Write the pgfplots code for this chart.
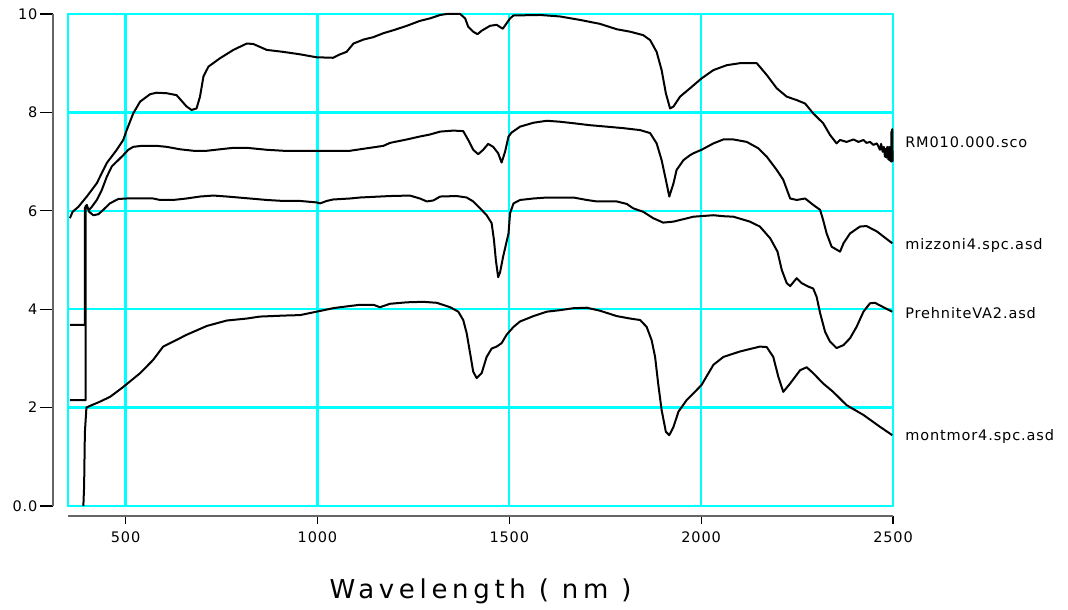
\documentclass[border=0pt]{standalone}
\usepackage{fontspec}
\setmainfont{DejaVu Sans}[LetterSpace=6]
\newfontfamily\labelfont{DejaVu Sans}[LetterSpace=18]
\usepackage{pgfplots}
\pgfplotsset{compat=1.18}
\definecolor{gridcyan}{RGB}{0,255,255}
\pgfplotsset{spec/.style={black, line width=1pt, mark=none, line join=round}}

\begin{document}
\begin{tikzpicture}
\useasboundingbox (-34pt,-51.5pt) rectangle (500pt,253pt);
\begin{axis}[
  at={(0pt,0pt)}, anchor=south west,
  scale only axis, width=412.5pt, height=246pt,
  xmin=350, xmax=2500, ymin=0, ymax=10,
  axis x line=bottom, axis y line=left,
  axis x line shift=5pt, axis y line shift=7.5pt,
  axis line style={-, black!60, line width=0.8pt},
  xtick={500,1000,1500,2000,2500},
  xticklabels={500,1000,1500,2000,2500},
  ytick={0,2,4,6,8,10},
  yticklabels={0.0,2,4,6,8,10},
  tick align=outside,
  xtick style={black, line width=0.6pt, /pgfplots/major tick length=4pt},
  ytick style={black, line width=0.6pt, /pgfplots/major tick length=6.5pt},
  ticklabel style={font=\fontsize{7.25}{8}\selectfont},
  grid=major,
  major grid style={gridcyan, line width=1.2pt},
  xlabel={Wavelength ( nm )},
  xlabel style={at={(axis description cs:0.5,0)}, anchor=center, yshift=-42.5pt,
    font=\labelfont\fontsize{13}{15}\selectfont},
  clip=false,
]
\draw[gridcyan, line width=1.2pt] (rel axis cs:0,0) rectangle (rel axis cs:1,1);

% RM010.000.sco
\addplot[spec] coordinates {
(355,5.85) (362,5.98) (377,6.08) (399,6.29) (425,6.56) (451,6.97) (477,7.24) (494,7.44)
(503,7.64) (520,7.98) (538,8.22) (564,8.37) (581,8.40) (607,8.39) (633,8.35) (659,8.12)
(672,8.05) (685,8.08) (694,8.32) (703,8.73) (716,8.93) (746,9.10) (781,9.27) (816,9.40)
(833,9.39) (868,9.27) (911,9.23) (955,9.18) (998,9.12) (1041,9.11) (1059,9.18) (1076,9.23)
(1094,9.40) (1120,9.48) (1146,9.53) (1172,9.61) (1198,9.67) (1233,9.76) (1267,9.86)
(1293,9.91) (1320,9.98) (1337,10.0) (1372,10.0) (1385,9.91) (1393,9.74) (1406,9.64)
(1417,9.59) (1428,9.66) (1450,9.76) (1467,9.78) (1483,9.70) (1493,9.81) (1502,9.91)
(1511,9.97) (1580,9.98) (1632,9.95) (1684,9.88) (1736,9.80) (1780,9.69) (1815,9.64)
(1849,9.57) (1867,9.47) (1884,9.23) (1897,8.86) (1908,8.39) (1919,8.08) (1928,8.12)
(1945,8.32) (1971,8.49) (2001,8.69) (2032,8.86) (2067,8.96) (2101,9.00) (2145,9.00)
(2171,8.76) (2197,8.49) (2223,8.32) (2249,8.25) (2271,8.18) (2292,7.98) (2318,7.78)
(2336,7.54) (2353,7.37) (2362,7.44) (2379,7.40) (2397,7.45) (2410,7.40) (2423,7.44)
(2431,7.38) (2440,7.40) (2449,7.34) (2458,7.37) (2466,7.24) (2469,7.36) (2473,7.20)
(2476,7.30) (2479,7.10) (2481,7.26) (2483,7.08) (2485,7.30) (2488,7.04) (2490,7.30)
(2492,7.02) (2494,7.30) (2495,7.00) (2496,7.61) (2497,7.00) (2498,7.66) (2499,7.00)
};

% mizzoni4.spc.asd
\addplot[spec] coordinates {
(355,2.15) (396,2.15) (396,6.10) (405,6.02) (412,6.08) (425,6.22) (438,6.42) (451,6.69)
(464,6.90) (477,7.00) (494,7.13) (507,7.24) (520,7.30) (542,7.32) (581,7.32) (607,7.30)
(642,7.25) (677,7.22) (712,7.22) (746,7.25) (781,7.28) (816,7.28) (842,7.26) (868,7.24)
(911,7.22) (955,7.22) (998,7.22) (1041,7.22) (1085,7.22) (1111,7.25) (1172,7.32)
(1189,7.38) (1233,7.45) (1267,7.51) (1293,7.55) (1320,7.61) (1354,7.63) (1380,7.62)
(1393,7.44) (1406,7.24) (1419,7.15) (1432,7.24) (1445,7.36) (1458,7.30) (1471,7.17)
(1480,6.98) (1489,7.20) (1498,7.51) (1506,7.59) (1528,7.71) (1563,7.79) (1598,7.83)
(1632,7.81) (1667,7.78) (1710,7.74) (1754,7.71) (1797,7.68) (1841,7.64) (1867,7.58)
(1884,7.37) (1897,7.03) (1908,6.63) (1917,6.29) (1928,6.56) (1936,6.83) (1954,7.03)
(1971,7.13) (1980,7.17) (2001,7.24) (2032,7.37) (2058,7.45) (2084,7.45) (2119,7.40)
(2149,7.27) (2171,7.10) (2197,6.83) (2214,6.63) (2232,6.25) (2249,6.22) (2271,6.25)
(2292,6.12) (2310,6.02) (2318,5.81) (2327,5.54) (2340,5.27) (2362,5.17) (2371,5.34)
(2388,5.54) (2414,5.68) (2431,5.69) (2458,5.58) (2498,5.34)
};

% PrehniteVA2.asd
\addplot[spec] coordinates {
(355,3.68) (394,3.68) (394,6.05) (399,6.12) (405,5.98) (416,5.91) (429,5.93) (442,6.02)
(459,6.15) (481,6.24) (503,6.25) (520,6.25) (572,6.25) (590,6.22) (624,6.22) (659,6.25)
(694,6.29) (729,6.31) (764,6.29) (824,6.25) (868,6.22) (911,6.20) (955,6.20) (998,6.17)
(1007,6.15) (1024,6.20) (1041,6.23) (1085,6.25) (1111,6.27) (1189,6.30) (1241,6.31)
(1267,6.25) (1285,6.19) (1302,6.21) (1320,6.29) (1363,6.30) (1389,6.27) (1406,6.19)
(1424,6.05) (1441,5.91) (1454,5.75) (1460,5.41) (1465,5.00) (1471,4.65) (1476,4.75)
(1484,5.07) (1498,5.54) (1502,5.95) (1511,6.15) (1528,6.22) (1563,6.25) (1598,6.27)
(1667,6.27) (1702,6.22) (1728,6.19) (1780,6.19) (1806,6.14) (1823,6.05) (1849,5.98)
(1875,5.85) (1901,5.76) (1928,5.78) (1954,5.83) (1980,5.88) (2032,5.91) (2058,5.89)
(2084,5.88) (2127,5.78) (2153,5.68) (2180,5.44) (2199,5.17) (2210,4.80) (2223,4.53)
(2232,4.47) (2249,4.63) (2262,4.53) (2279,4.46) (2292,4.42) (2301,4.25) (2310,3.92)
(2323,3.54) (2336,3.34) (2353,3.21) (2371,3.27) (2388,3.41) (2405,3.64) (2423,3.95)
(2440,4.12) (2453,4.13) (2475,4.04) (2498,3.95)
};

% montmor4.spc.asd
\addplot[spec] coordinates {
(390,0) (392,0.4) (394,1.5) (398,2.0) (403,2.02) (433,2.12) (460,2.22) (494,2.42)
(538,2.70) (572,2.97) (598,3.24) (624,3.34) (659,3.48) (712,3.66) (764,3.77) (816,3.81)
(850,3.85) (911,3.87) (955,3.88) (998,3.95) (1041,4.02) (1059,4.04) (1111,4.09)
(1146,4.09) (1163,4.04) (1189,4.11) (1233,4.14) (1276,4.15) (1311,4.13) (1346,4.04)
(1367,3.95) (1380,3.78) (1389,3.51) (1398,3.10) (1406,2.73) (1415,2.60) (1428,2.70)
(1441,3.03) (1454,3.20) (1467,3.24) (1480,3.31) (1493,3.48) (1511,3.64) (1528,3.75)
(1563,3.86) (1598,3.95) (1632,3.98) (1667,4.02) (1702,4.03) (1736,3.97) (1780,3.86)
(1815,3.81) (1841,3.78) (1858,3.64) (1871,3.37) (1880,3.03) (1888,2.49) (1897,1.95)
(1908,1.51) (1917,1.44) (1928,1.61) (1941,1.92) (1962,2.15) (1980,2.29) (2001,2.46)
(2032,2.87) (2058,3.03) (2101,3.14) (2153,3.24) (2171,3.23) (2188,3.03) (2201,2.63)
(2214,2.32) (2232,2.49) (2258,2.76) (2275,2.82) (2292,2.70) (2318,2.49) (2344,2.32)
(2379,2.05) (2423,1.85) (2466,1.61) (2498,1.44)
};

\node[anchor=west, font=\fontsize{7.25}{8}\selectfont, xshift=2.6pt] at (axis cs:2500,7.40) {RM010.000.sco};
\node[anchor=west, font=\fontsize{7.25}{8}\selectfont, xshift=2.6pt] at (axis cs:2500,5.30) {mizzoni4.spc.asd};
\node[anchor=west, font=\fontsize{7.25}{8}\selectfont, xshift=2.6pt] at (axis cs:2500,3.92) {PrehniteVA2.asd};
\node[anchor=west, font=\fontsize{7.25}{8}\selectfont, xshift=2.6pt] at (axis cs:2500,1.42) {montmor4.spc.asd};
\end{axis}
\end{tikzpicture}
\end{document}
